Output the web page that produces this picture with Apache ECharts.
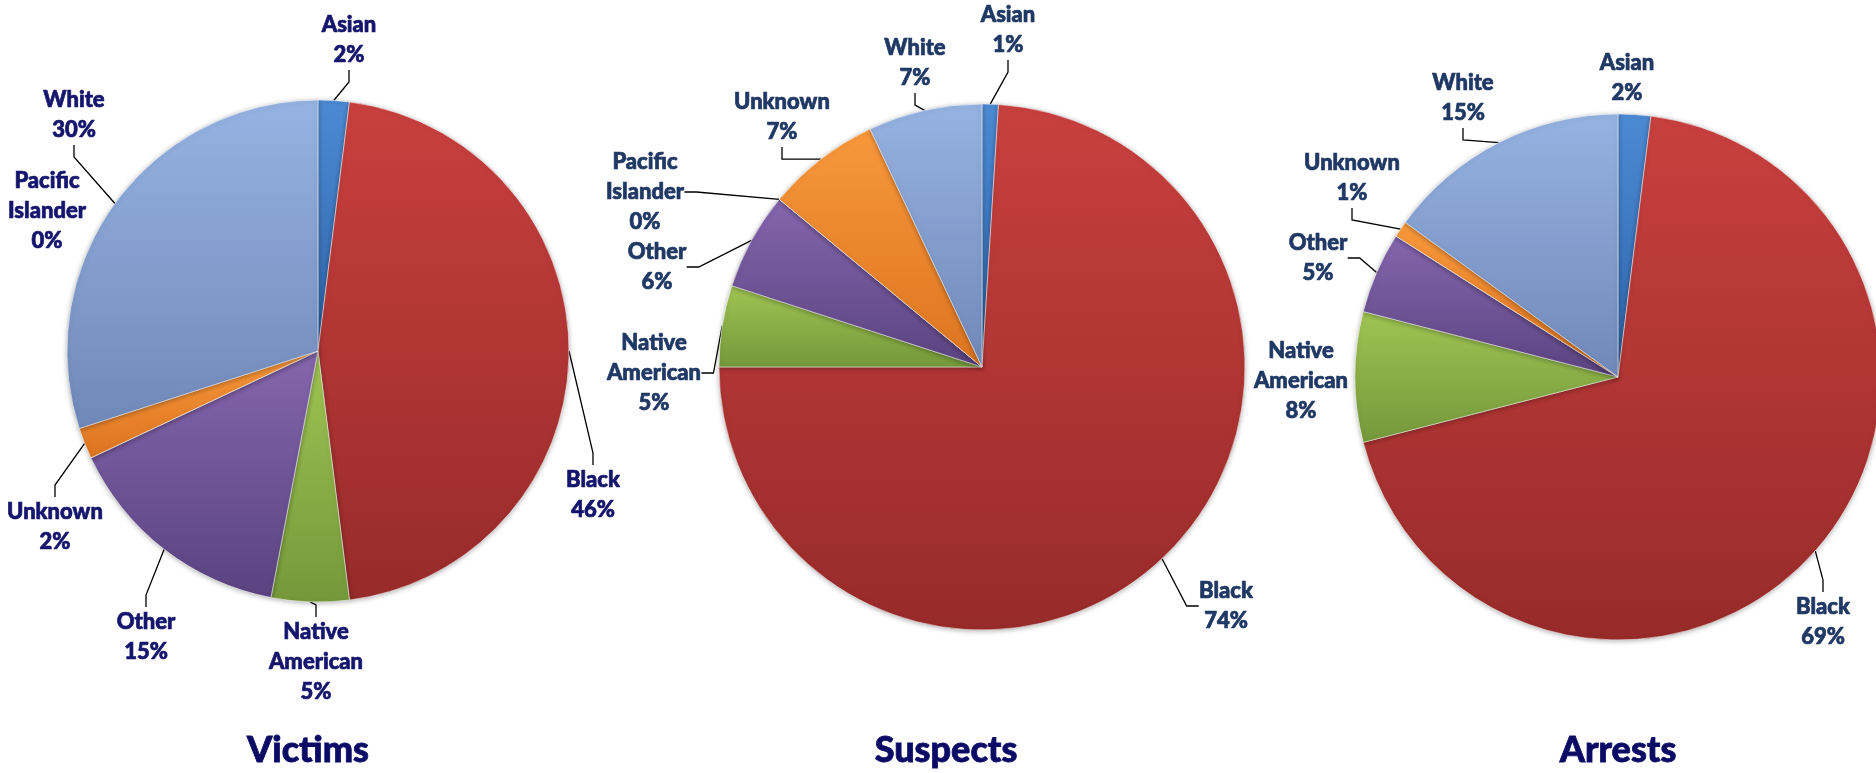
<!DOCTYPE html>
<html>
<head>
<meta charset="utf-8">
<script src="https://cdn.jsdelivr.net/npm/echarts@6/dist/echarts.min.js"></script>
<style>
  html, body { margin: 0; padding: 0; background: #ffffff; }
  #chart { width: 1876px; height: 773px; }
</style>
</head>
<body>
<div id="chart"></div>
<script>
// ---- data ----
const categories = ['Asian', 'Black', 'Native American', 'Other', 'Pacific Islander', 'Unknown', 'White'];
const victims  = [2, 46, 5, 15, 0, 2, 30];
const suspects = [1, 74, 5, 6, 0, 7, 7];
const arrests  = [2, 69, 8, 5, 0, 1, 15];
const chartTitles = ['Victims', 'Suspects', 'Arrests'];

// ---- layout / style (kept apart from the data) ----
const pieLayout = [
  { center: [318, 351], radius: 251 },
  { center: [982, 367], radius: 263 },
  { center: [1618, 377], radius: 263 }
];
const titleX = [308, 946, 1618];
const titleY = 750;
// label block centres, in category order
const labelPos = [
  [[349, 40], [593, 495], [316, 662], [146, 637], [47, 211], [55, 527], [74, 115]],
  [[1008, 30], [1226, 606], [654, 373], [657, 267], [645, 192], [782, 117], [915, 63]],
  [[1627, 78], [1823, 622], [1301, 381], [1318, 258], [0, 0], [1352, 178], [1463, 98]]
];
const hideLabel = [[], [], [4]];
const hideLine = [[4], [], [0, 2]];
const labelColors = ['#15156d', '#1f3864', '#1f3864'];
const sliceColors = [
  ['#4d8ad4', '#2d63a8'],  // Asian
  ['#c8403e', '#972b2a'],  // Black
  ['#a0c453', '#74983a'],  // Native American
  ['#8466ad', '#5a4380'],  // Other
  ['#4bacc6', '#31859c'],  // Pacific Islander
  ['#f8983c', '#dc7420'],  // Unknown
  ['#95b3e2', '#7088b8']   // White
];

const series = [victims, suspects, arrests].map(function (vals, si) {
  return {
    type: 'pie',
    center: pieLayout[si].center,
    radius: pieLayout[si].radius,
    startAngle: 90,
    clockwise: true,
    avoidLabelOverlap: false,
    animation: false,
    label: {
      show: true,
      position: 'outside',
      color: labelColors[si],
      fontFamily: 'Lato',
      fontWeight: 900,
      fontSize: 22,
      lineHeight: 30,
      align: 'center',
      textBorderColor: labelColors[si],
      textBorderWidth: 0.7,
      formatter: function (p) {
        return p.name.replace(' ', '\n') + '\n' + p.value + '%';
      }
    },
    labelLine: {
      show: true,
      length: 12,
      length2: 12,
      smooth: false,
      lineStyle: { color: '#000000', width: 1.3 }
    },
    labelLayout: function (params) {
      const pos = labelPos[si][params.dataIndex];
      return { x: pos[0], y: pos[1], align: 'center', verticalAlign: 'middle' };
    },
    itemStyle: {
      borderColor: 'rgba(255,255,255,0.5)',
      borderWidth: 1,
      shadowColor: 'rgba(0,0,0,0.3)',
      shadowBlur: 5,
      shadowOffsetY: 1
    },
    data: categories.map(function (name, i) {
      const item = {
        name: name,
        value: vals[i],
        itemStyle: {
          color: new echarts.graphic.LinearGradient(0, 0, 0, 1, [
            { offset: 0, color: sliceColors[i][0] },
            { offset: 1, color: sliceColors[i][1] }
          ])
        }
      };
      if (hideLabel[si].indexOf(i) >= 0) {
        item.label = { show: false };
        item.labelLine = { show: false };
      }
      if (hideLine[si].indexOf(i) >= 0) {
        item.labelLine = { show: false };
      }
      return item;
    })
  };
});

const chart = echarts.init(document.getElementById('chart'), null, { renderer: 'canvas' });
chart.setOption({
  backgroundColor: '#ffffff',
  animation: false,
  title: chartTitles.map(function (t, i) {
    return {
      text: t,
      left: titleX[i],
      top: titleY,
      padding: 0,
      textAlign: 'center',
      textVerticalAlign: 'middle',
      textStyle: {
        fontFamily: 'Lato', fontWeight: 900, fontSize: 36, color: '#0b0b66',
        textBorderColor: '#0b0b66', textBorderWidth: 0.8
      }
    };
  }),
  series: series
});
</script>
</body>
</html>
